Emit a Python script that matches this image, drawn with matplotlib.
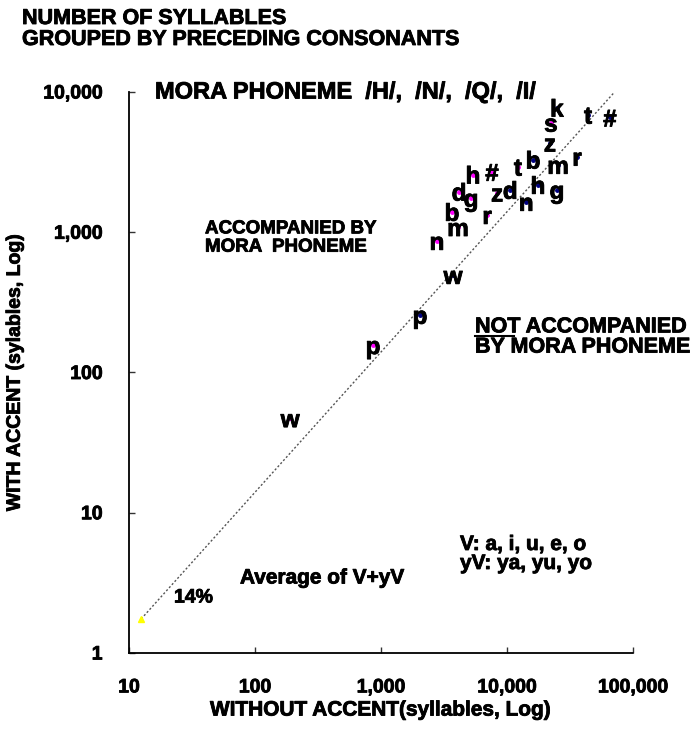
import numpy as np
import matplotlib
matplotlib.use("Agg")
import matplotlib.pyplot as plt
import matplotlib.patheffects as pe
from matplotlib.ticker import FixedLocator, FixedFormatter

plt.rcParams['font.family'] = ['Liberation Sans', 'DejaVu Sans']
plt.rcParams['font.weight'] = 'bold'

### not accompanied by mora phoneme (navy dots)
not_lab = ['t', '#', 'z', 'm', 'r', 'b', 'h', 'g', 'd', 'n', 'w', 'p', 'k']
not_x = [43950, 65600, 21900, 25400, 35900, 16100, 17600, 24900, 10600, 14200, 3730, 2040, 24900]
not_y = [6900, 6580, 4360, 3030, 3460, 3300, 2180, 2010, 2010, 1650, 497, 258, 7740]

### accompanied by mora phoneme (magenta dots)
acc_lab = ['t', '#', 'z', 'm', 'r', 'b', 'h', 'g', 'd', 'n', 'w', 'p', 's']
acc_x = [12200, 7600, 8340, 4080, 6940, 3660, 5370, 5180, 4160, 2780, 190, 865, 22300]
acc_y = [2940, 2700, 1920, 1090, 1330, 1400, 2580, 1760, 1950, 869, 47.3, 157, 6050]

### average of V+yV
avg_x = 12.5
avg_y = 1.75
ratio = 0.14
line_end_x = 71000

ticks = [10, 100, 1000, 10000, 100000]
tick_lab = ['10', '100', '1,000', '10,000', '100,000']
yticks = [1, 10, 100, 1000, 10000]
ytick_lab = ['1', '10', '100', '1,000', '10,000']

W, H = 698, 729
heavy = [pe.withStroke(linewidth=0.6, foreground='black')]

fig = plt.figure(figsize=(W / 100, H / 100), dpi=100)
ax = fig.add_axes([129 / W, 1 - 653 / H, (633 - 129) / W, (653 - 92) / H])
ax.set_xscale('log')
ax.set_yscale('log')
ax.set_xlim(10, 100000)
ax.set_ylim(1, 10000)

# diagonal
lx = np.array([avg_x, line_end_x])
ax.plot(lx, lx * ratio, color='#555555', lw=1.0, ls=(0, (1.5, 1.5)), zorder=1)

ax.plot(not_x, not_y, 'o', color='#000080', ms=2.5, zorder=2)
ax.plot(acc_x, acc_y, 'o', color='#ff00ff', ms=2.5, zorder=2)
ax.plot([avg_x], [avg_y], '^', color='#ffff00', ms=5, zorder=2)

for lab, x, y in zip(not_lab + acc_lab, not_x + acc_x, not_y + acc_y):
    ax.text(x, y, lab, fontsize=17.5, fontweight='bold', ha='center', va='center_baseline',
            zorder=3, path_effects=heavy)

for s in ['top', 'right']:
    ax.spines[s].set_visible(False)
for s in ['left', 'bottom']:
    ax.spines[s].set_linestyle((0, (1, 1)))
    ax.spines[s].set_linewidth(1.3)

ax.xaxis.set_major_locator(FixedLocator(ticks))
ax.xaxis.set_major_formatter(FixedFormatter(tick_lab))
ax.yaxis.set_major_locator(FixedLocator(yticks))
ax.yaxis.set_major_formatter(FixedFormatter(ytick_lab))
ax.xaxis.set_minor_locator(FixedLocator([]))
ax.yaxis.set_minor_locator(FixedLocator([]))
ax.tick_params(direction='in', length=4, width=1, colors='#333333', labelcolor='black',
               labelsize=14, pad=19)
for t in ax.get_xticklabels() + ax.get_yticklabels():
    t.set_fontweight('bold')
    t.set_path_effects(heavy)

ax.set_xlabel('WITHOUT ACCENT(syllables, Log)', fontsize=15, fontweight='bold', labelpad=3,
              path_effects=heavy)
ax.set_ylabel('WITH ACCENT (sylables, Log)', fontsize=14, fontweight='bold', labelpad=14,
              path_effects=heavy)


def ftext(px, py, s, **kw):
    fig.text(px / W, 1 - py / H, s, fontweight='bold', va='center', path_effects=heavy, **kw)


ftext(22, 29, 'NUMBER OF SYLLABLES\nGROUPED BY PRECEDING CONSONANTS', fontsize=15.5, linespacing=1.0)
ftext(155, 92, 'MORA PHONEME  /H/,  /N/,  /Q/,  /I/', fontsize=17)
ftext(205, 238, 'ACCOMPANIED BY\nMORA  PHONEME', fontsize=13.5, linespacing=1.1)
ftext(475, 337, 'NOT ACCOMPANIED\nBY MORA PHONEME', fontsize=15.5, linespacing=0.95)
fig.add_artist(plt.Line2D([475 / W, 514 / W], [1 - 336 / H, 1 - 336 / H], color='black', lw=1.5))
ftext(460, 554, 'V: a, i, u, e, o\nyV: ya, yu, yo', fontsize=15, linespacing=1.0)
ftext(240, 578, 'Average of V+yV', fontsize=15)
ftext(174, 598, '14%', fontsize=14)

fig.savefig('out.png', dpi=100)
